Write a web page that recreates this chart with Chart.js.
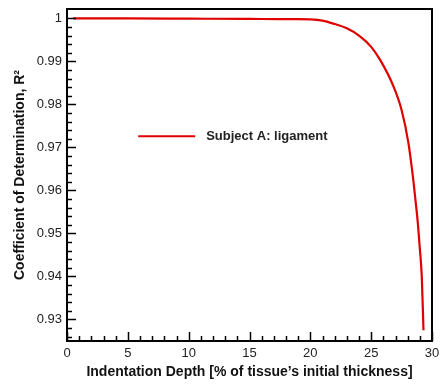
<!DOCTYPE html>
<html>
<head>
<meta charset="utf-8">
<script src="https://cdn.jsdelivr.net/npm/chart.js@4"></script>
<style>
  html, body { margin: 0; padding: 0; background: #fff; }
  #wrap { width: 440px; height: 388px; }
</style>
</head>
<body>
<div id="wrap"><canvas id="chart" width="440" height="388"></canvas></div>
<script>
// values
const depth = [0.5, 5, 10, 15, 17.5, 19, 20, 21, 22, 23, 24, 25, 25.75, 26.85, 27.5, 28.07, 28.48, 28.65, 28.8, 29.0, 29.16, 29.3];
const rSquared = [1.0, 1.0, 0.99995, 0.9999, 0.99985, 0.99985, 0.9998, 0.9995, 0.9987, 0.9977, 0.996, 0.9934, 0.9903, 0.9841, 0.9787, 0.9709, 0.962, 0.9575, 0.9535, 0.9465, 0.940, 0.9275];

const xTicks = [0, 5, 10, 15, 20, 25, 30];
const yTicks = [0.93, 0.94, 0.95, 0.96, 0.97, 0.98, 0.99, 1];
const yTickLabels = ["0.93", "0.94", "0.95", "0.96", "0.97", "0.98", "0.99", "1"];

const seriesName = "Subject A: ligament";
const lineColor = "#e00000";
const textColor = "#222";
const fontFamily = "'Liberation Sans', Arial, Helvetica, sans-serif";

// inward ticks + frame, drawn like the original plotting package
const framePlugin = {
  id: "frame",
  afterDatasetsDraw(chart) {
    const { ctx, chartArea: a, scales } = chart;
    ctx.save();
    ctx.strokeStyle = "#000";
    ctx.lineWidth = 1.5;
    // minor + major ticks on x
    for (let v = 0; v <= 30; v += 1) {
      const px = Math.round(scales.x.getPixelForValue(v)) + 0.5;
      const len = v % 5 === 0 ? 9 : 5;
      ctx.beginPath();
      ctx.moveTo(px, a.bottom);
      ctx.lineTo(px, a.bottom - len);
      ctx.stroke();
    }
    // minor + major ticks on y
    for (let i = 0; i <= 40; i++) {
      const v = 0.926 + i * 0.002;
      if (v > 1.0015) break;
      const py = Math.round(scales.y.getPixelForValue(v)) + 0.5;
      const major = Math.abs(Math.round(v * 100) - v * 100) < 1e-6;
      ctx.beginPath();
      ctx.moveTo(a.left, py);
      ctx.lineTo(a.left + (major ? 9 : 5), py);
      ctx.stroke();
    }
    ctx.lineWidth = 2;
    ctx.strokeRect(a.left, a.top, a.right - a.left, a.bottom - a.top);
    ctx.restore();
  }
};

// legend sitting inside the plot
const insideLegend = {
  id: "insideLegend",
  afterDraw(chart) {
    const { ctx, chartArea: a } = chart;
    const w = a.right - a.left;
    const h = a.bottom - a.top;
    const x0 = a.left + w * 0.195;
    const y0 = a.top + h * 0.383;
    ctx.save();
    ctx.strokeStyle = lineColor;
    ctx.lineWidth = 2;
    ctx.beginPath();
    ctx.moveTo(x0, y0);
    ctx.lineTo(x0 + 57, y0);
    ctx.stroke();
    ctx.fillStyle = textColor;
    ctx.font = "bold 13px " + fontFamily;
    ctx.textBaseline = "middle";
    ctx.fillText(seriesName, x0 + 68, y0);
    ctx.restore();
  }
};

new Chart(document.getElementById("chart"), {
  type: "line",
  data: {
    datasets: [{
      label: seriesName,
      data: depth.map((d, i) => ({ x: d, y: rSquared[i] })),
      borderColor: lineColor,
      borderWidth: 2.2,
      pointRadius: 0,
      cubicInterpolationMode: "monotone",
      fill: false
    }]
  },
  options: {
    responsive: false,
    animation: false,
    layout: { padding: { top: 9, right: 8, left: 0, bottom: 0 } },
    plugins: {
      legend: { display: false },
      tooltip: { enabled: false }
    },
    scales: {
      x: {
        type: "linear",
        min: 0,
        max: 30,
        afterBuildTicks: (s) => { s.ticks = xTicks.map(v => ({ value: v })); },
        afterFit: (s) => { s.height = 47; s.paddingLeft = 0; s.paddingRight = 0; },
        grid: { display: false, drawTicks: false },
        border: { display: false },
        ticks: {
          color: textColor,
          padding: 5,
          font: { family: fontFamily, size: 13 },
          maxRotation: 0
        },
        title: {
          display: true,
          text: "Indentation Depth [% of tissue\u2019s initial thickness]",
          color: "#111",
          font: { family: fontFamily, size: 14, weight: "bold" },
          padding: { top: 0, bottom: 7 }
        }
      },
      y: {
        type: "linear",
        min: 0.925,
        max: 1.0022,
        afterBuildTicks: (s) => { s.ticks = yTicks.map(v => ({ value: v })); },
        afterFit: (s) => { s.width = 67; s.paddingTop = 0; s.paddingBottom = 0; },
        grid: { display: false, drawTicks: false },
        border: { display: false },
        ticks: {
          color: textColor,
          padding: 5,
          font: { family: fontFamily, size: 13 },
          callback: (v) => yTickLabels[yTicks.findIndex(t => Math.abs(t - v) < 1e-9)]
        },
        title: {
          display: true,
          text: "Coefficient of Determination, R\u00b2",
          color: "#111",
          font: { family: fontFamily, size: 14, weight: "bold" },
          padding: { top: 12, bottom: 0 }
        }
      }
    }
  },
  plugins: [framePlugin, insideLegend]
});
</script>
</body>
</html>
